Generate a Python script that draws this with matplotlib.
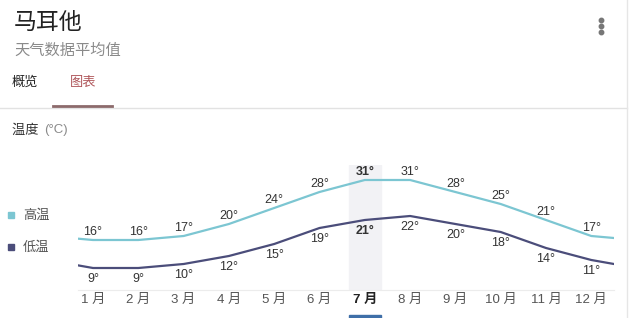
import numpy as np
import matplotlib
matplotlib.use('Agg')
import matplotlib.pyplot as plt
from matplotlib.patches import Rectangle
from matplotlib.lines import Line2D

plt.rcParams['font.family'] = ['Noto Sans CJK SC', 'DejaVu Sans']
LATIN = ['Liberation Sans', 'Noto Sans CJK SC']

# data
months = ['1 月', '2 月', '3 月', '4 月', '5 月', '6 月',
          '7 月', '8 月', '9 月', '10 月', '11 月', '12 月']
high = [16, 16, 17, 20, 24, 28, 31, 31, 28, 25, 21, 17]
low = [9, 9, 10, 12, 15, 19, 21, 22, 20, 18, 14, 11]
current = 6  # 7 月 highlighted

HIGH_COLOR = '#7cc6d2'
LOW_COLOR = '#4b4d7a'

W, H = 631, 318
fig = plt.figure(figsize=(W / 100, H / 100), dpi=100)
fig.patch.set_facecolor('white')


def fx(x):
    return x / W


def fy(y):
    return 1 - y / H


# header
fig.text(fx(14), fy(22), '马耳他', fontsize=16.5, color='#222222', va='center')
fig.text(fx(14), fy(50), '天气数据平均值', fontsize=11, color='#8a8a8a', va='center')
fig.text(fx(12), fy(82), '概览', fontsize=9.5, color='#222222', va='center')
fig.text(fx(70), fy(82), '图表', fontsize=9.5, color='#b0585c', va='center')
fig.lines.append(Line2D([fx(601)] * 3, [fy(20), fy(26), fy(32)], transform=fig.transFigure,
                        ls='none', marker='o', ms=3.2, color='#777777'))
fig.lines.append(Line2D([0, fx(627)], [fy(107.5), fy(107.5)], transform=fig.transFigure,
                        color='#e2e2e2', lw=1))
fig.lines.append(Line2D([fx(53), fx(112)], [fy(106), fy(106)], transform=fig.transFigure,
                        color='#8c6a6b', lw=2))
fig.lines.append(Line2D([fx(627), fx(627)], [0, 1], transform=fig.transFigure,
                        color='#e6e6e6', lw=1))

# y label and legend
fig.text(fx(12), fy(130), '温度 ', fontsize=9.5, color='#333333', va='center')
fig.text(fx(44), fy(130), '(°C)', fontsize=9.5, color='#8a8a8a', va='center', family=LATIN)
for y, name, c in [(215, '高温', HIGH_COLOR), (247, '低温', LOW_COLOR)]:
    fig.patches.append(Rectangle((fx(8), fy(y + 3)), fx(6), 6 / H, transform=fig.transFigure,
                                 color=c, figure=fig))
    fig.text(fx(23), fy(y), name, fontsize=9.5, color='#555555', va='center')

# chart axes: 4 px per degree, 31° at y=180px
ax_top, ax_bot, ax_l, ax_r = 165, 290, 78, 614
ax = fig.add_axes([fx(ax_l), fy(ax_bot), fx(ax_r - ax_l), (ax_bot - ax_top) / H])
ax.set_facecolor('none')
ax.set_ylim(31 - (ax_bot - 180) / 4, 31 + (180 - ax_top) / 4)
step = 45.3
ax.set_xlim(-(93 - ax_l) / step, 11 + (ax_r - 591.3) / step)

ax.axvspan(current - 0.35, current + 0.35, color='#f2f2f5', zorder=0)

x = np.arange(-1, 13)
ax.plot(x, np.r_[high[-1], high, high[0]], color=HIGH_COLOR, lw=1.6)
ax.plot(x, np.r_[low[-1], low, low[0]], color=LOW_COLOR, lw=1.6)

for i in range(12):
    bold = 'bold' if i == current else 'normal'
    ax.annotate(f'{high[i]}°', (i, high[i]), xytext=(0, 5.5), textcoords='offset points',
                ha='center', va='center', fontsize=9, color='#333333', fontweight=bold,
                family=LATIN)
    ax.annotate(f'{low[i]}°', (i, low[i]), xytext=(0, -8), textcoords='offset points',
                ha='center', va='center', fontsize=9, color='#333333', fontweight=bold,
                family=LATIN)

ax.set_xticks(range(12))
ax.set_xticklabels(months, fontsize=9.5, color='#555555', family=LATIN)
ax.get_xticklabels()[current].set_fontweight('bold')
ax.get_xticklabels()[current].set_color('#222222')
ax.tick_params(axis='x', length=0, pad=3)
ax.set_yticks([])
for s in ['top', 'left', 'right']:
    ax.spines[s].set_visible(False)
ax.spines['bottom'].set_color('#ececec')

# selected month marker under the axis
cx = 93 + current * step
fig.patches.append(Rectangle((fx(cx - 16), 0), fx(32), 3 / H, transform=fig.transFigure,
                             color='#3f6fa8', figure=fig))

fig.savefig('out.png', dpi=100)
